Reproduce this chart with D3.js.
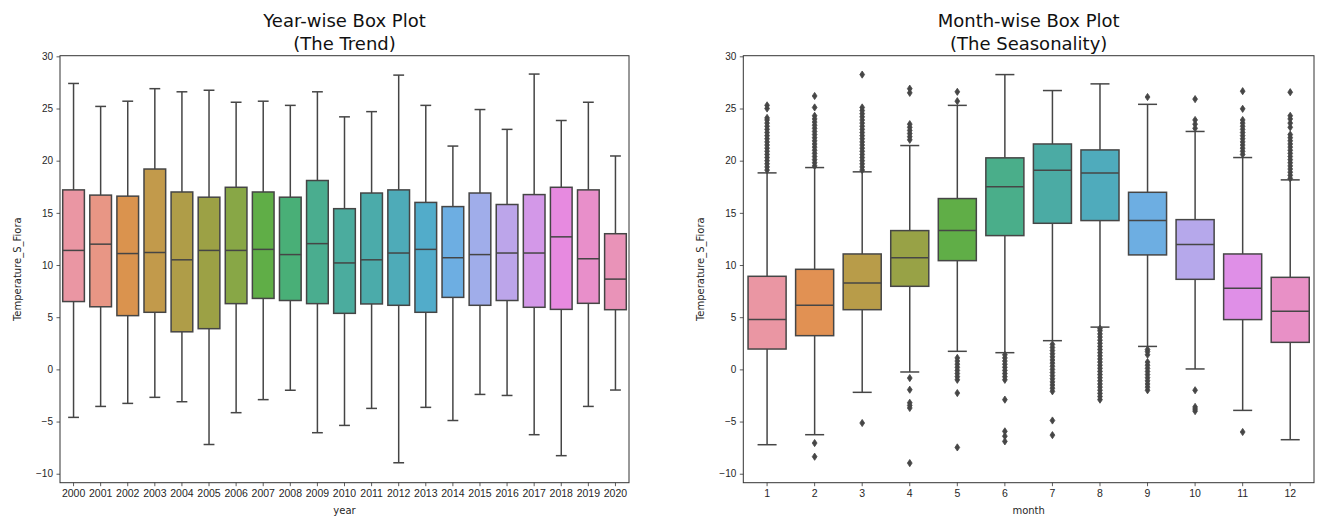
<!DOCTYPE html>
<html>
<head>
<meta charset="utf-8">
<script src="https://cdn.jsdelivr.net/npm/d3@7/dist/d3.min.js"></script>
<style>
  body { margin: 0; background: #fff; }
  svg { font-family: "DejaVu Sans", sans-serif; }
</style>
</head>
<body>
<div id="chart"></div>
<script>
// ---- data ----
const years = ["2000","2001","2002","2003","2004","2005","2006","2007","2008","2009","2010",
               "2011","2012","2013","2014","2015","2016","2017","2018","2019","2020"];
const yearLow = [-4.6,-3.55,-3.26,-2.68,-3.1,-7.2,-4.15,-2.9,-2.0,-6.07,-5.37,-3.74,-8.95,-3.64,-4.9,-2.4,-2.5,-6.26,-8.27,-3.55,-1.98];
const yearQ1  = [6.5,6.0,5.15,5.47,3.6,3.9,6.3,6.8,6.6,6.3,5.37,6.27,6.14,5.47,6.9,6.14,6.6,5.95,5.75,6.33,5.72];
const yearMed = [11.4,12.0,11.1,11.2,10.5,11.4,11.4,11.5,11.0,12.05,10.2,10.5,11.15,11.5,10.7,11.0,11.15,11.15,12.7,10.6,8.65];
const yearQ3  = [17.2,16.7,16.6,19.2,17.0,16.5,17.45,17.0,16.5,18.1,15.4,16.9,17.2,16.0,15.6,16.9,15.8,16.75,17.45,17.2,13.0];
const yearHigh = [27.4,25.2,25.7,26.9,26.6,26.75,25.6,25.7,25.3,26.6,24.2,24.7,28.2,25.3,21.4,24.9,23.0,28.3,23.85,25.6,20.45];

const months = ["1","2","3","4","5","6","7","8","9","10","11","12"];
const monthLow = [-7.22,-6.26,-2.2,-0.25,1.73,1.6,2.75,4.05,2.2,0.04,-3.93,-6.74];
const monthQ1  = [1.95,3.23,5.72,7.96,10.42,12.82,14.0,14.26,10.97,8.63,4.77,2.59];
const monthMed = [4.77,6.14,8.28,10.7,13.3,17.49,19.08,18.83,14.26,11.96,7.77,5.56];
const monthQ3  = [8.92,9.59,11.06,13.3,16.37,20.27,21.6,21.03,16.97,14.35,11.06,8.82];
const monthHigh = [18.83,19.34,18.93,21.45,25.3,28.25,26.72,27.36,25.4,22.8,20.3,18.16];
const monthFliers = [
  [19.1,19.4,19.7,20.0,20.3,20.6,20.9,21.2,21.5,21.8,22.1,22.4,22.7,23.0,23.3,23.6,23.9,24.1,25.0,25.3],
  [-8.37,-7.06,19.5,19.8,20.1,20.4,20.7,21.0,21.3,21.6,21.9,22.2,22.5,22.8,23.1,23.4,23.7,24.0,24.3,25.1,26.2],
  [-5.14,19.1,19.4,19.7,20.0,20.3,20.6,20.9,21.2,21.5,21.8,22.1,22.4,22.7,23.0,23.3,23.6,23.9,24.2,24.5,24.8,25.1,28.25],
  [-8.98,-3.7,-3.45,-3.2,-1.95,-0.83,22.0,22.3,22.6,22.9,23.2,23.5,26.5,26.9],
  [-7.48,-2.27,-1.0,-0.7,-0.4,-0.1,0.2,0.5,0.8,1.1,25.7,26.6],
  [-6.9,-6.4,-5.94,-2.9,-1.0,-0.7,-0.4,-0.1,0.2,0.5,0.8,1.1,1.4],
  [-6.3,-4.9,-2.1,-1.8,-1.5,-1.2,-0.9,-0.6,-0.3,0.0,0.3,0.6,0.9,1.2,1.5,1.8,2.1,2.4],
  [-2.9,-2.6,-2.3,-2.0,-1.7,-1.4,-1.1,-0.8,-0.5,-0.2,0.1,0.4,0.7,1.0,1.3,1.6,1.9,2.2,2.5,2.8,3.1,3.4,3.7,3.9],
  [-2.0,-1.7,-1.4,-1.1,-0.8,-0.5,-0.2,0.1,0.4,0.7,1.4,1.7,1.9,26.1],
  [-4.0,-3.8,-3.6,-2.0,23.1,23.5,23.9,25.9],
  [-6.0,20.6,20.9,21.2,21.5,21.8,22.1,22.4,22.7,23.0,23.3,23.6,23.9,24.97,26.66],
  [18.3,18.6,18.9,19.2,19.5,19.8,20.1,20.4,20.7,21.0,21.3,21.6,21.9,22.2,22.5,23.2,23.6,24.0,24.3,26.56]
];
const yTicks = [-10,-5,0,5,10,15,20,25,30];
const yDomain = [-10.86, 30.06];

// ---- seaborn-like husl palette ----
const M = [[3.2406,-1.5372,-0.4986],[-0.9689,1.8758,0.0415],[0.0557,-0.2040,1.0570]];
function maxChroma(L, H) {
  const hr = H * Math.PI / 180, sinH = Math.sin(hr), cosH = Math.cos(hr);
  const sub1 = Math.pow(L + 16, 3) / 1560896;
  const sub2 = sub1 > 0.008856 ? sub1 : L / 903.3;
  let result = Infinity;
  M.forEach(row => {
    const [m1, m2, m3] = row;
    const top = (0.99915 * m1 + 1.05122 * m2 + 1.14460 * m3) * sub2;
    const rb = 0.86330 * m3 - 0.17266 * m2;
    const lb = 0.12949 * m3 - 0.38848 * m1;
    const bottom = (rb * sinH + lb * cosH) * sub2;
    [0, 1].forEach(t => {
      const C = L * (top - 1.05122 * t) / (bottom + 0.17266 * sinH * t);
      if (C > 0 && C < result) result = C;
    });
  });
  return result;
}
function huslToRgb(H, S, L) {
  const C = maxChroma(L, H) / 100 * S;
  const hr = H * Math.PI / 180;
  const U = Math.cos(hr) * C, V = Math.sin(hr) * C;
  const t = (L + 16) / 116;
  const Y = Math.pow(t, 3) > 0.008856 ? Math.pow(t, 3) : (116 * t - 16) / 903.3;
  const vU = U / (13 * L) + 0.19784, vV = V / (13 * L) + 0.46834;
  const X = -(9 * Y * vU) / ((vU - 4) * vV - vU * vV);
  const Z = (9 * Y - 15 * vV * Y - vV * X) / (3 * vV);
  return M.map(r => {
    const c = r[0] * X + r[1] * Y + r[2] * Z;
    const v = c <= 0.0031308 ? 12.92 * c : 1.055 * Math.pow(c, 1 / 2.4) - 0.055;
    return Math.max(0, Math.min(1, v));
  });
}
function boxColors(n) {
  return d3.range(n).map(i => {
    const h = ((i / n + 0.01) % 1) * 359;
    const rgb = huslToRgb(h, 0.9 * 99, 0.7 * 99);
    const c = d3.hsl(d3.rgb(rgb[0] * 255, rgb[1] * 255, rgb[2] * 255));
    c.s *= 0.75;
    return c;
  });
}
function grayFor(cols) {
  const lum = d3.min(cols, c => c.l) * 0.6 * 255;
  return d3.rgb(lum, lum, lum).formatHex();
}

// ---- drawing ----
const width = 1321, height = 516;
const svg = d3.select("#chart").append("svg")
  .attr("width", width).attr("height", height);

function drawPanel(opt) {
  const left = opt.left, right = opt.right, top = 55.7, bottom = 482.7;
  const x = d3.scaleBand().domain(opt.cats).range([left, right]).padding(0);
  const y = d3.scaleLinear().domain(yDomain).range([bottom, top]);
  const cols = boxColors(opt.cats.length);
  const gray = grayFor(cols);
  const bw = x.bandwidth() * 0.8, cw = bw * 0.5;
  const g = svg.append("g");

  // axes
  const ya = g.append("g").attr("transform", `translate(${left},0)`)
    .call(d3.axisLeft(y).tickValues(yTicks).tickSize(3.5).tickPadding(3.5));
  const xa = g.append("g").attr("transform", `translate(0,${bottom})`)
    .call(d3.axisBottom(x).tickSize(3.5).tickPadding(3.5));
  [ya, xa].forEach(a => {
    a.select(".domain").remove();
    a.selectAll("line").attr("stroke", "#333").attr("stroke-width", 0.8);
    a.selectAll("text").attr("fill", "#262626").style("font-size", "10px");
  });
  xa.selectAll("text").style("font-size", "10.5px");

  opt.cats.forEach((c, i) => {
    const cx = x(c) + x.bandwidth() / 2;
    const bg = g.append("g");
    // whiskers + caps
    bg.append("line").attr("x1", cx).attr("x2", cx)
      .attr("y1", y(opt.q3[i])).attr("y2", y(opt.hi[i]));
    bg.append("line").attr("x1", cx).attr("x2", cx)
      .attr("y1", y(opt.q1[i])).attr("y2", y(opt.lo[i]));
    bg.append("line").attr("x1", cx - cw / 2).attr("x2", cx + cw / 2)
      .attr("y1", y(opt.hi[i])).attr("y2", y(opt.hi[i]));
    bg.append("line").attr("x1", cx - cw / 2).attr("x2", cx + cw / 2)
      .attr("y1", y(opt.lo[i])).attr("y2", y(opt.lo[i]));
    bg.append("rect")
      .attr("x", cx - bw / 2).attr("width", bw)
      .attr("y", y(opt.q3[i])).attr("height", y(opt.q1[i]) - y(opt.q3[i]))
      .attr("fill", cols[i].formatHex());
    bg.append("line").attr("x1", cx - bw / 2).attr("x2", cx + bw / 2)
      .attr("y1", y(opt.med[i])).attr("y2", y(opt.med[i]));
    bg.selectAll("line,rect").attr("stroke", gray).attr("stroke-width", 1.5);

    if (opt.fliers) {
      bg.selectAll("path.flier").data(opt.fliers[i]).enter().append("path")
        .attr("class", "flier")
        .attr("d", d => `M${cx},${y(d) - 3.6}L${cx + 2.4},${y(d)}L${cx},${y(d) + 3.6}L${cx - 2.4},${y(d)}Z`)
        .attr("fill", gray).attr("stroke", gray).attr("stroke-width", 0.8);
    }
  });

  // frame
  g.append("rect").attr("x", left).attr("y", top)
    .attr("width", right - left).attr("height", bottom - top)
    .attr("fill", "none").attr("stroke", "#333").attr("stroke-width", 1);

  const mid = (left + right) / 2;
  const t = g.append("text").attr("text-anchor", "middle").attr("fill", "#111")
    .style("font-size", "18px");
  t.append("tspan").attr("x", mid).attr("y", 27).text(opt.title[0]);
  t.append("tspan").attr("x", mid).attr("y", 49.5).text(opt.title[1]);

  g.append("text").attr("x", mid).attr("y", 514).attr("text-anchor", "middle")
    .attr("fill", "#262626").style("font-size", "10px").text(opt.xLabel);
  g.append("text").attr("transform", `translate(${opt.yLabelX},${(top + bottom) / 2}) rotate(-90)`)
    .attr("text-anchor", "middle").attr("fill", "#262626").style("font-size", "10px")
    .text("Temperature_S_Fiora");
}

drawPanel({
  left: 60, right: 629, cats: years,
  lo: yearLow, q1: yearQ1, med: yearMed, q3: yearQ3, hi: yearHigh,
  title: ["Year-wise Box Plot", "(The Trend)"], xLabel: "year", yLabelX: 20.5
});
drawPanel({
  left: 743.3, right: 1314, cats: months,
  lo: monthLow, q1: monthQ1, med: monthMed, q3: monthQ3, hi: monthHigh, fliers: monthFliers,
  title: ["Month-wise Box Plot", "(The Seasonality)"], xLabel: "month", yLabelX: 704
});
</script>
</body>
</html>
